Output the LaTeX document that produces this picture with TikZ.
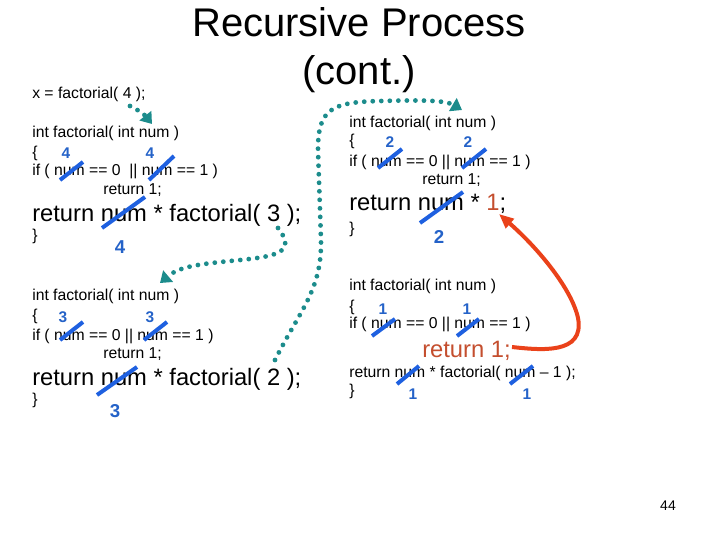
\documentclass[tikz,border=0pt]{standalone}
\usepackage{fontspec}
\setmainfont{Liberation Sans}
\usepackage{xcolor}
\usetikzlibrary{arrows.meta}
\definecolor{dotteal}{RGB}{28,140,140}
\definecolor{strikeblue}{RGB}{30,96,224}
\definecolor{numblue}{RGB}{36,98,200}
\definecolor{retred}{RGB}{196,78,46}
\definecolor{arrred}{RGB}{234,66,26}

\begin{document}
\begin{tikzpicture}[x=0.75pt, y=-0.75pt,
  txt/.style={anchor=base west, inner sep=0pt, font=\fontsize{11.8}{14}\selectfont},
  big/.style={txt, font=\fontsize{17.8}{20}\selectfont},
  ttl/.style={anchor=base, inner sep=0pt, font=\fontsize{30}{36}\selectfont},
  val/.style={anchor=base, inner sep=0pt, text=numblue, font=\fontsize{11.6}{14}\selectfont\bfseries},
  bigval/.style={val, font=\fontsize{14}{16}\selectfont\bfseries},
  strike/.style={draw=strikeblue, line width=3pt},
  call/.style={draw=dotteal, line width=3.6pt, line cap=round, dash pattern=on 0pt off 6.4pt,
               -{Triangle[length=8pt,width=11pt]}},
  back/.style={draw=arrred, line width=3pt, -{Triangle[length=11pt,width=9pt]}}]
\useasboundingbox (0,0) rectangle (720,540);
% title
\node[ttl] (title) at (359,36) {Recursive Process};
\node[ttl] (cont)  at (359,84) {(cont.)};
\node[txt] (callx) at (32,98) {x = factorial( 4 );};
% frame for num = 4
\node[txt] (hdA) at (32,137) {int factorial( int num )};
\node[txt] (brA) at (32,157) {\{};
\node[txt] (ifA) at (32,175) {if ( num == 0\ \ || num == 1 )};
\node[txt] (rtA) at (103,194) {return 1;};
\node[big] (recA) at (32,221) {return num * factorial( 3 );};
\node[txt] (ebA) at (32,240) {\}};
\node[val] (vA1) at (66,158) {4};
\node[val] (vA2) at (150,158) {4};
\node[bigval] (vA3) at (120,253) {4};
% frame for num = 3
\node[txt] (hdB) at (32,300) {int factorial( int num )};
\node[txt] (brB) at (32,320) {\{};
\node[txt] (ifB) at (32,340) {if ( num == 0 || num == 1 )};
\node[txt] (rtB) at (103,358) {return 1;};
\node[big] (recB) at (32,385) {return num * factorial( 2 );};
\node[txt] (ebB) at (32,404) {\}};
\node[val] (vB1) at (63,322) {3};
\node[val] (vB2) at (150,322) {3};
\node[bigval] (vB3) at (115,417) {3};
% frame for num = 2
\node[txt] (hdC) at (349,127) {int factorial( int num )};
\node[txt] (brC) at (349,145) {\{};
\node[txt] (ifC) at (349,166) {if ( num == 0 || num == 1 )};
\node[txt] (rtC) at (422,184) {return 1;};
\node[big] (recC) at (349,210) {return num * \textcolor{retred}{1};};
\node[txt] (ebC) at (349,233) {\}};
\node[val] (vC1) at (390,147) {2};
\node[val] (vC2) at (468,147) {2};
\node[bigval] (vC3) at (439,243) {2};
% frame for num = 1
\node[txt] (hdD) at (349,290) {int factorial( int num )};
\node[txt] (brD) at (349,311) {\{};
\node[txt] (ifD) at (349,328) {if ( num == 0 || num == 1 )};
\node[big, text=retred] (rtD) at (422,357) {return 1;};
\node[txt] (recD) at (349,377) {return num * factorial( num – 1 );};
\node[txt] (ebD) at (349,395) {\}};
\node[val] (vD1) at (383,314) {1};
\node[val] (vD2) at (467,314) {1};
\node[val] (vD3) at (413,399) {1};
\node[val] (vD4) at (527,399) {1};
\node[anchor=base, inner sep=0pt, font=\fontsize{10.5}{12}\selectfont] (pg) at (668,510) {44};
% crossed-out num
\draw[strike] (60,180) -- (83,162);   \draw[strike] (149,180) -- (174,156);
\draw[strike] (102,228) -- (145,197);
\draw[strike] (60,340) -- (83,322);   \draw[strike] (144,340) -- (167,322);
\draw[strike] (97,395) -- (137,367);
\draw[strike] (378,168) -- (402,149); \draw[strike] (462,168) -- (486,149);
\draw[strike] (420,223) -- (463,192);
\draw[strike] (372,336) -- (395,319); \draw[strike] (457,336) -- (479,319);
\draw[strike] (397,384) -- (419,366); \draw[strike] (510,384) -- (533,366);
% call and return arrows
\coordinate (c1a) at (130,106); \coordinate (c1b) at (152,124);
\coordinate (c2a) at (278,228); \coordinate (c2b) at (160,283);
\coordinate (c3a) at (275,360); \coordinate (c3b) at (462,110);
\coordinate (r1a) at (512,347); \coordinate (r1b) at (499,214);
\draw[call] (c1a) .. controls (138,110) and (144,114) .. (c1b);
\draw[call] (c2a) .. controls (295,250) and (282,256) .. (240,260)
                  .. controls (200,264) and (180,266) .. (c2b);
\draw[call] (c3a) .. controls (300,310) and (322,290) .. (321,240) -- (318,150)
                  .. controls (318,110) and (330,102) .. (380,101)
                  .. controls (420,100) and (445,100) .. (c3b);
\draw[back] (r1a) .. controls (540,350) and (585,355) .. (578,318)
                  .. controls (572,290) and (540,250) .. (r1b);
\end{tikzpicture}
\end{document}
